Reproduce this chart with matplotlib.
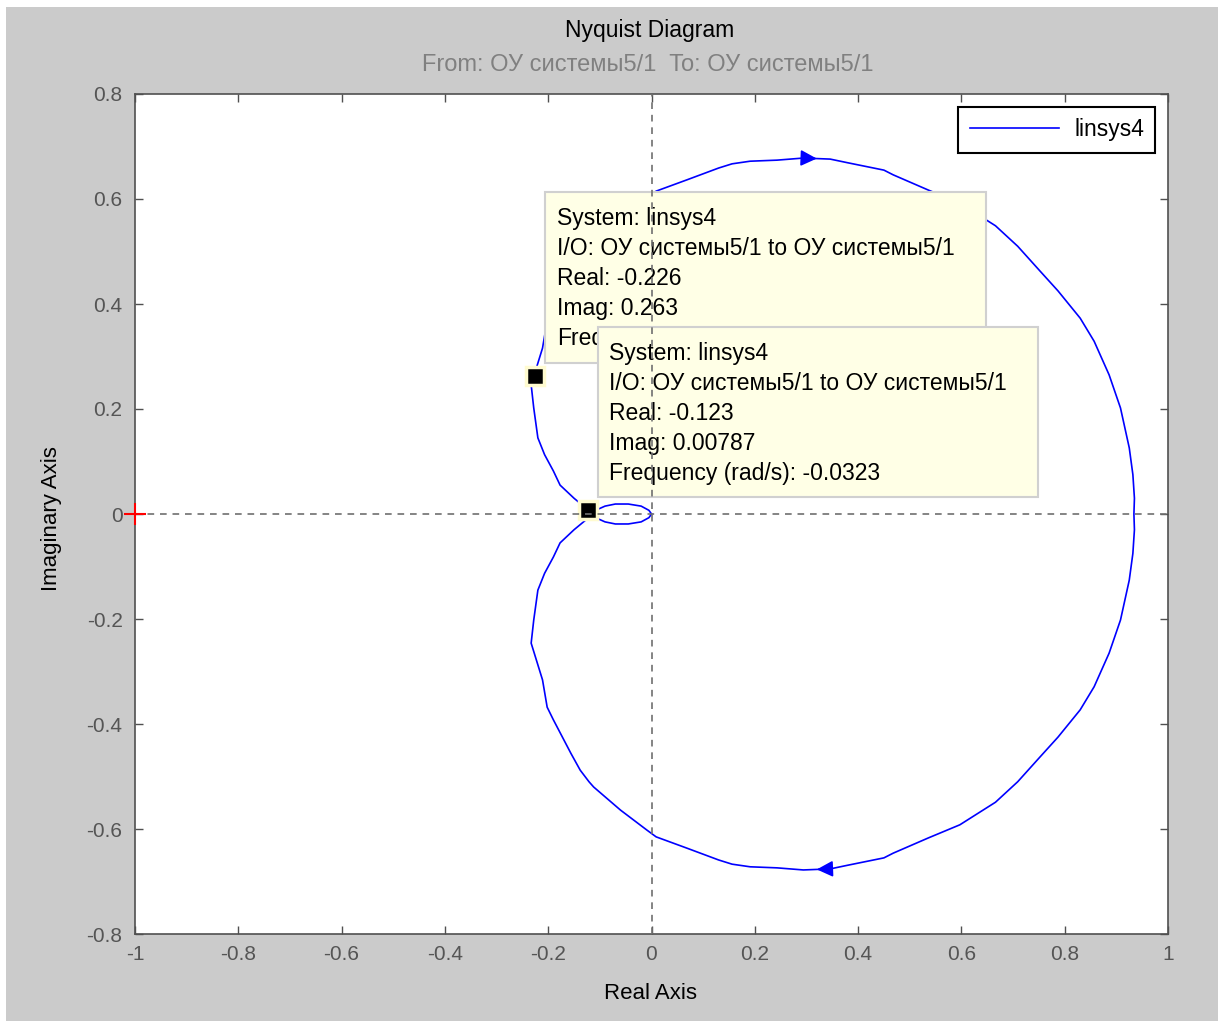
import matplotlib
matplotlib.use("Agg")

import numpy as np
import matplotlib.pyplot as plt
from matplotlib.patches import Rectangle

# Nyquist curve, positive-frequency branch (w = 0 -> inf)
re_pos = [0.934, 0.935, 0.932, 0.925, 0.908, 0.886, 0.857, 0.830, 0.787, 0.752, 0.709,
          0.666, 0.597, 0.536, 0.468, 0.450, 0.380, 0.346, 0.320, 0.294, 0.243,
          0.191, 0.156, 0.130, 0.070, 0.009, -0.009, -0.060, -0.112, -0.121, -0.138,
          -0.156, -0.190, -0.202, -0.211, -0.233, -0.228, -0.220, -0.207, -0.190, -0.177,
          -0.150, -0.123, -0.106, -0.090, -0.070, -0.045, -0.020, -0.005, 0.0]
im_pos = [0.0, -0.030, -0.075, -0.126, -0.202, -0.265, -0.329, -0.373, -0.425, -0.463, -0.510,
          -0.549, -0.592, -0.617, -0.646, -0.655, -0.669, -0.676, -0.677, -0.678, -0.674,
          -0.672, -0.667, -0.659, -0.637, -0.615, -0.602, -0.564, -0.520, -0.510, -0.488,
          -0.456, -0.392, -0.368, -0.316, -0.246, -0.202, -0.145, -0.113, -0.082, -0.055,
          -0.030, -0.008, -0.008, -0.015, -0.019, -0.019, -0.015, -0.007, 0.0]

# data tips (the first one's last line is covered by the second tip)
tip_re = [-0.226, -0.123]
tip_im = [0.263, 0.00787]
tip_lines = [
    ["System: linsys4", "I/O: ОУ системы5/1 to ОУ системы5/1",
     "Real: -0.226", "Imag: 0.263", "Freq"],
    ["System: linsys4", "I/O: ОУ системы5/1 to ОУ системы5/1",
     "Real: -0.123", "Imag: 0.00787", "Frequency (rad/s): -0.0323"],
]

x_ticks = [-1, -0.8, -0.6, -0.4, -0.2, 0, 0.2, 0.4, 0.6, 0.8, 1]
x_tick_labels = ["-1", "-0.8", "-0.6", "-0.4", "-0.2", "0", "0.2", "0.4", "0.6", "0.8", "1"]
y_ticks = [-0.8, -0.6, -0.4, -0.2, 0, 0.2, 0.4, 0.6, 0.8]
y_tick_labels = ["-0.8", "-0.6", "-0.4", "-0.2", "0", "0.2", "0.4", "0.6", "0.8"]

plt.rcParams["font.family"] = ["Liberation Sans", "DejaVu Sans"]
plt.rcParams["axes.unicode_minus"] = False

W, H = 1218, 1021
bg = "#cbcbcb"

fig = plt.figure(figsize=(W / 100, H / 100), dpi=100)
fig.patch.set_facecolor("white")
fig.add_artist(Rectangle((6 / W, 0), 1, 1 - 7 / H, transform=fig.transFigure,
                         facecolor=bg, edgecolor="none", zorder=-10))

ax = fig.add_axes([135 / W, (H - 934) / H, (1168 - 135) / W, (934 - 94) / H])
ax.set_facecolor("white")

re_pos = np.array(re_pos)
im_pos = np.array(im_pos)
# full contour: negative frequencies (mirror) then positive ones
x_all = np.concatenate([re_pos[::-1], re_pos])
y_all = np.concatenate([-im_pos[::-1], im_pos])
ax.plot(x_all, y_all, color="#0000ff", lw=1.2, zorder=2, label="linsys4")

# direction arrows
arrow_kw = dict(arrowstyle="-|>,head_length=0.7,head_width=0.35", mutation_scale=14,
                color="#0000ff", lw=1.2, shrinkA=0, shrinkB=0)
ax.annotate("", xy=(re_pos[18], im_pos[18]), xytext=(re_pos[17], im_pos[17]),
            arrowprops=arrow_kw, zorder=2)
ax.annotate("", xy=(re_pos[18], -im_pos[18]), xytext=(re_pos[19], -im_pos[19]),
            arrowprops=arrow_kw, zorder=2)

# critical point
ax.plot([-1], [0], marker="+", color="red", ms=16, mew=1.5, clip_on=False, zorder=6)

# zero lines
ax.axhline(0, color="#707070", lw=1.2, ls=(0, (4, 3.5)), zorder=5)
ax.axvline(0, color="#707070", lw=1.2, ls=(0, (4, 3.5)), zorder=5)

# data tip markers
ax.plot(tip_re, tip_im, ls="none", marker="s", ms=13, mfc="black",
        mec="#fffbd0", mew=2.5, zorder=4)

# data tip boxes (pixel layout of the reference)
boxes = [(545, 192, 986, 363), (598, 327, 1038, 497)]
text_x = [557, 609]
first_base = [225, 360]
for k in range(2):
    x0, y0, x1, y1 = boxes[k]
    ax.add_patch(Rectangle((x0 / W, 1 - y1 / H), (x1 - x0) / W, (y1 - y0) / H,
                           transform=fig.transFigure, facecolor="#ffffe6",
                           edgecolor="#d0d0d0", lw=1.5, clip_on=False,
                           zorder=3 + k * 0.5))
    for j, line in enumerate(tip_lines[k]):
        t = ax.text(text_x[k] / W, 1 - (first_base[k] + 30 * j) / H, line,
                    transform=fig.transFigure, fontsize=16.5, color="black",
                    ha="left", va="baseline", zorder=3.2 + k * 0.5)
        if k == 0 and j == 4:
            clip = Rectangle((x0 / W, 1 - y1 / H), (598 - x0) / W, (y1 - y0) / H,
                             transform=fig.transFigure, visible=False)
            ax.add_patch(clip)
            t.set_clip_path(clip)
            t.set_clip_on(True)

ax.set_xlim(-1, 1)
ax.set_ylim(-0.8, 0.8)
ax.set_xticks(x_ticks)
ax.set_xticklabels(x_tick_labels)
ax.set_yticks(y_ticks)
ax.set_yticklabels(y_tick_labels)
ax.tick_params(direction="in", top=True, right=True, length=6, width=1,
               color="#505050", labelcolor="#555555", labelsize=15)
ax.tick_params(axis="x", pad=8)
ax.tick_params(axis="y", pad=9)
for s in ax.spines.values():
    s.set_color("#505050")
    s.set_linewidth(1.2)

leg = ax.legend(loc="upper right", fontsize=16.5, handlelength=3.9, handletextpad=0.65,
                borderpad=0.5, borderaxespad=0.55, fancybox=False, framealpha=1,
                edgecolor="black")
leg.get_frame().set_linewidth(1.5)
leg.set_zorder(7)

fig.text(650 / W, 1 - 31 / H, "Nyquist Diagram", fontsize=16.5, color="black",
         ha="center", va="center")
fig.text(648 / W, 1 - 65 / H, "From: ОУ системы5/1  To: ОУ системы5/1", fontsize=17,
         color="#808080", ha="center", va="center")
fig.text(650 / W, 1 - 993 / H, "Real Axis", fontsize=16, color="black",
         ha="center", va="center")
fig.text(52 / W, 1 - 519 / H, "Imaginary Axis", fontsize=16, color="black",
         ha="center", va="center", rotation=90)

fig.savefig("out.png", dpi=100, facecolor=fig.get_facecolor())
